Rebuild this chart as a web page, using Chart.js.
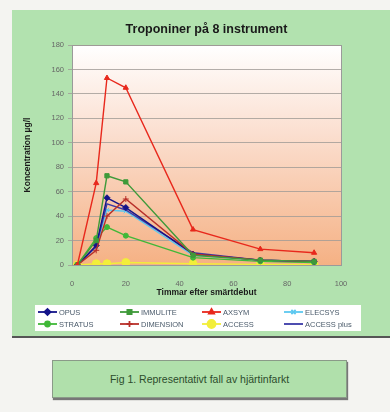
<!DOCTYPE html>
<html><head><meta charset="utf-8">
<script src="https://cdn.jsdelivr.net/npm/chart.js@4/dist/chart.umd.min.js"></script>
<style>
html,body{margin:0;padding:0;background:#f4f4f1;width:390px;height:412px;overflow:hidden;font-family:"Liberation Sans",Arial,sans-serif;}
#panel{position:absolute;left:12px;top:10px;width:378px;height:326px;background:#b2e2af;box-shadow:0 2px 0 #555;}
#cap{position:absolute;left:52px;top:360px;width:293px;height:36px;background:#b0e0ab;border:1px solid #8a9a88;box-shadow:1px 2px 1px #777;font-size:10.5px;color:#2c4c2c;text-align:center;line-height:36px;}
canvas{position:absolute;left:0;top:0;}
</style></head><body>
<div id="panel"><canvas id="c" width="378" height="326"></canvas></div>
<div id="cap">Fig 1. Representativt fall av hjärtinfarkt</div>
<script>
const hours = [2, 9, 13, 20, 45, 70, 90];
const seriesNames = ["OPUS", "IMMULITE", "AXSYM", "ELECSYS", "STRATUS", "DIMENSION", "ACCESS", "ACCESS plus"];
const opus = [0, 16, 55, 47, 9, 4, 3];
const immulite = [0, 20, 73, 68, 8, 4, 3];
const axsym = [0, 67, 153, 145, 29, 13, 10];
const elecsys = [0, 15, 45, 44, 8, 4, 3];
const stratus = [0, 22, 31, 24, 6, 3, 2];
const dimension = [0, 12, 40, 54, 9, 4, 3];
const access = [0, 1, 1, 2, 1, 0.5, 0.3];
const accessPlus = [0, 15, 50, 45, 10, 4, 3];
const xTicks = [0, 20, 40, 60, 80, 100];
const yTicks = [0, 20, 40, 60, 80, 100, 120, 140, 160, 180];
const chartTitle = "Troponiner på 8 instrument";
const xTitle = "Timmar efter smärtdebut";
const yTitle = "Koncentration µg/l";

const values = [opus, immulite, axsym, elecsys, stratus, dimension, access, accessPlus];
const colors = ["#14148a", "#3f9a3a", "#e8281c", "#5cc8f0", "#40b838", "#b8302a", "#f2ee3a", "#3a3aa8"];
const styles = ["rectRot", "rect", "triangle", "crossRot", "circle", "cross", "circle", "circle"];
const radii = [3, 3, 3, 3, 2.5, 3, 4, 0];

const datasets = seriesNames.map((n, i) => ({
  label: n,
  data: hours.map((h, j) => ({x: h, y: values[i][j]})),
  borderColor: colors[i], backgroundColor: colors[i],
  pointStyle: styles[i], pointRadius: radii[i], borderWidth: 1.4,
  pointBorderWidth: 1, tension: 0
}));
const order = [6, 4, 3, 7, 0, 5, 1, 2];
const ordered = order.map(i => Object.assign({}, datasets[i], {order: -order.indexOf(i)}));

const bgPlugin = {
  id: 'bg',
  beforeDraw(chart) {
    const {ctx, chartArea: a} = chart;
    const g = ctx.createLinearGradient(0, a.top, 0, a.bottom);
    g.addColorStop(0, '#ffffff');
    g.addColorStop(0.4, '#fbdfd0');
    g.addColorStop(1, '#f5b184');
    ctx.save(); ctx.fillStyle = g; ctx.fillRect(a.left, a.top, a.right - a.left, a.bottom - a.top);
    ctx.strokeStyle = '#9a9a9a'; ctx.lineWidth = 1;
    ctx.strokeRect(a.left + 0.5, a.top + 0.5, a.right - a.left, a.bottom - a.top);
    ctx.restore();
  },
  afterDraw(chart) {
    const {ctx, chartArea: a} = chart;
    ctx.save();
    ctx.fillStyle = '#1a1a1a';
    ctx.font = 'bold 12.5px "Liberation Sans"';
    ctx.textAlign = 'center'; ctx.textBaseline = 'middle';
    ctx.fillText(chartTitle, (a.left + a.right) / 2, 20);
    const lx = 23, ly = 295, lw = 326, lh = 26;
    ctx.fillStyle = '#ffffff'; ctx.fillRect(lx, ly, lw, lh);
    ctx.font = '7.5px "Liberation Sans"'; ctx.textAlign = 'left';
    seriesNames.forEach((n, i) => {
      const col = i % 4, row = Math.floor(i / 4);
      const x = lx + 3 + col * 82, y = ly + 7 + row * 12;
      ctx.strokeStyle = colors[i]; ctx.lineWidth = 1.8;
      ctx.beginPath(); ctx.moveTo(x, y); ctx.lineTo(x + 19, y); ctx.stroke();
      if (radii[i] > 0) {
        ctx.fillStyle = colors[i];
        Chart.helpers.drawPoint(ctx, {pointStyle: styles[i], radius: radii[i], borderWidth: 1, rotation: 0}, x + 9.5, y);
      }
      ctx.fillStyle = '#4a5a6a';
      ctx.fillText(n, x + 21, y + 0.5);
    });
    ctx.restore();
  }
};

new Chart(document.getElementById('c'), {
  type: 'line',
  data: {datasets: ordered},
  options: {
    responsive: false, animation: false,
    layout: {padding: {left: 7, right: 49, top: 35, bottom: 34}},
    plugins: {legend: {display: false}, title: {display: false}, tooltip: {enabled: false}},
    scales: {
      x: {
        type: 'linear', min: 0, max: 100,
        afterBuildTicks(s) { s.ticks = xTicks.map(v => ({value: v})); },
        afterFit(s) { s.height = 37; },
        grid: {display: false, drawTicks: true},
        border: {color: '#9a9a9a'},
        ticks: {color: '#666', font: {size: 7.5, family: 'Liberation Sans'}, padding: 6},
        title: {display: true, text: xTitle, color: '#1a1a1a', font: {size: 8.5, weight: 'bold', family: 'Liberation Sans'}, padding: {top: 2}}
      },
      y: {
        min: 0, max: 180,
        afterBuildTicks(s) { s.ticks = yTicks.map(v => ({value: v})); },
        afterFit(s) { s.width = 53; },
        grid: {color: '#a09a96', lineWidth: 0.8, drawTicks: true, tickLength: 4},
        border: {color: '#9a9a9a'},
        ticks: {color: '#666', font: {size: 7.5, family: 'Liberation Sans'}, padding: 4},
        title: {display: true, text: yTitle, color: '#1a1a1a', font: {size: 8.5, weight: 'bold', family: 'Liberation Sans'}, padding: {bottom: 10}}
      }
    }
  },
  plugins: [bgPlugin]
});
</script>
</body></html>
